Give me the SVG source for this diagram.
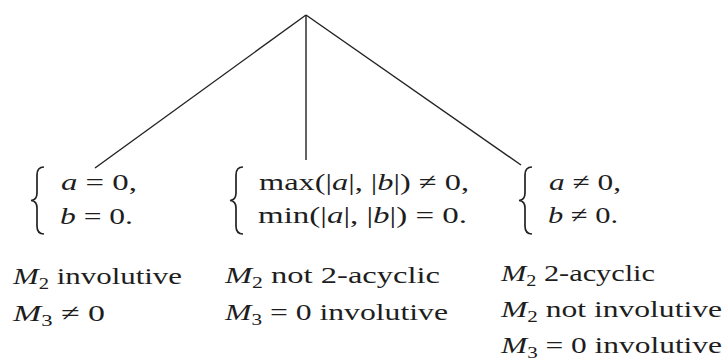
<svg xmlns="http://www.w3.org/2000/svg" width="723" height="362" viewBox="0 0 723 362">
<style>
text { font-family: "Liberation Serif", "DejaVu Serif", serif; font-size: 24px; fill: #1e1e1e; }
.i { font-style: italic; }
.sub { font-size: 16px; }
.edge { stroke: #222; stroke-width: 1.4; fill: none; }
.brace { stroke: #222; stroke-width: 1.7; fill: none; }
</style>
<rect width="723" height="362" fill="#ffffff"/>
<g id="connectors">
  <line class="edge" x1="306" y1="15" x2="95" y2="168"/>
  <line class="edge" x1="306" y1="15" x2="306" y2="160"/>
  <line class="edge" x1="306" y1="15" x2="521" y2="165"/>
</g>
<g id="node-left">
  <path class="brace" d="M44,167 Q37,167 37,175 L37,193 Q37,200 31,200.5 Q37,201 37,208 L37,226 Q37,234 44,234"/>
  <text x="61" y="190" textLength="76" lengthAdjust="spacingAndGlyphs"><tspan class="i">a</tspan> = 0,</text>
  <text x="60" y="224" textLength="73" lengthAdjust="spacingAndGlyphs"><tspan class="i">b</tspan> = 0.</text>
  <text x="13" y="284" textLength="169" lengthAdjust="spacingAndGlyphs"><tspan class="i">M</tspan><tspan class="sub" dy="5">2</tspan><tspan dy="-5"> involutive</tspan></text>
  <text x="13" y="321" textLength="92" lengthAdjust="spacingAndGlyphs"><tspan class="i">M</tspan><tspan class="sub" dy="5">3</tspan><tspan dy="-5"> ≠ 0</tspan></text>
</g>
<g id="node-middle">
  <path class="brace" d="M243,167 Q236,167 236,175 L236,193 Q236,200 230,200.5 Q236,201 236,208 L236,226 Q236,234 243,234"/>
  <text x="259" y="190" textLength="210" lengthAdjust="spacingAndGlyphs">max(|<tspan class="i">a</tspan>|, |<tspan class="i">b</tspan>|) ≠ 0,</text>
  <text x="258" y="223" textLength="209" lengthAdjust="spacingAndGlyphs">min(|<tspan class="i">a</tspan>|, |<tspan class="i">b</tspan>|) = 0.</text>
  <text x="225" y="283" textLength="215" lengthAdjust="spacingAndGlyphs"><tspan class="i">M</tspan><tspan class="sub" dy="5">2</tspan><tspan dy="-5">  not 2-acyclic</tspan></text>
  <text x="225" y="320" textLength="223" lengthAdjust="spacingAndGlyphs"><tspan class="i">M</tspan><tspan class="sub" dy="5">3</tspan><tspan dy="-5"> = 0 involutive</tspan></text>
</g>
<g id="node-right">
  <path class="brace" d="M532,167 Q525,167 525,175 L525,193 Q525,200 519,200.5 Q525,201 525,208 L525,226 Q525,234 532,234"/>
  <text x="549" y="190" textLength="72" lengthAdjust="spacingAndGlyphs"><tspan class="i">a</tspan> ≠ 0,</text>
  <text x="548" y="223" textLength="70" lengthAdjust="spacingAndGlyphs"><tspan class="i">b</tspan> ≠ 0.</text>
  <text x="501" y="281" textLength="154" lengthAdjust="spacingAndGlyphs"><tspan class="i">M</tspan><tspan class="sub" dy="5">2</tspan><tspan dy="-5"> 2-acyclic</tspan></text>
  <text x="501" y="317" textLength="221" lengthAdjust="spacingAndGlyphs"><tspan class="i">M</tspan><tspan class="sub" dy="5">2</tspan><tspan dy="-5"> not involutive</tspan></text>
  <text x="501" y="353" textLength="221" lengthAdjust="spacingAndGlyphs"><tspan class="i">M</tspan><tspan class="sub" dy="5">3</tspan><tspan dy="-5"> = 0 involutive</tspan></text>
</g>
</svg>
